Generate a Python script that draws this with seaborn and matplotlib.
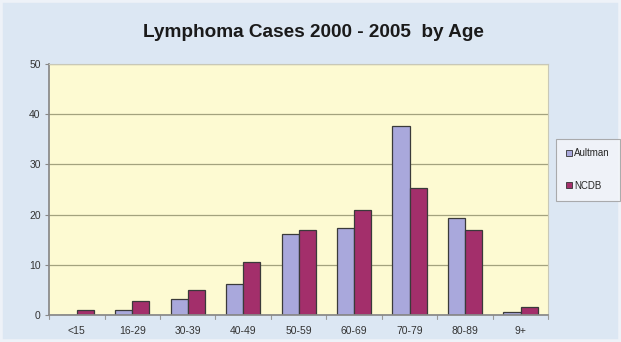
import matplotlib
matplotlib.use("Agg")
import matplotlib.pyplot as plt
import seaborn as sns
import pandas as pd
from matplotlib.patches import Patch, Rectangle

# Share of lymphoma cases (%) per age group, 2000 - 2005
age_groups = ["<15", "16-29", "30-39", "40-49", "50-59", "60-69", "70-79", "80-89", "9+"]
aultman = [0.0, 1.0, 3.2, 6.2, 16.2, 17.3, 37.6, 19.3, 0.5]
ncdb = [1.0, 2.8, 5.0, 10.6, 17.0, 21.0, 25.3, 16.9, 1.6]
series_names = ["Aultman", "NCDB"]
y_ticks = [0, 10, 20, 30, 40, 50]

df = pd.DataFrame({
    "age": age_groups * 2,
    "value": aultman + ncdb,
    "source": [series_names[0]] * len(age_groups) + [series_names[1]] * len(age_groups),
})

sns.set_theme(style="white")
plt.rcParams["font.family"] = ["Liberation Sans", "DejaVu Sans"]

colors = {"Aultman": "#a9a8dc", "NCDB": "#a32f6b"}

fig = plt.figure(figsize=(6.21, 3.42), dpi=100, facecolor="#dce7f3")
fig.patches.append(Rectangle((0, 0), 1, 1, transform=fig.transFigure, fill=False,
                             edgecolor="#eef2f8", linewidth=4, zorder=-1))
ax = fig.add_axes([0.079, 0.079, 0.804, 0.734])
ax.set_facecolor("#fdfad2")

sns.barplot(data=df, x="age", y="value", hue="source", order=age_groups,
            hue_order=series_names, palette=colors, width=0.62, gap=0,
            edgecolor="#3a3a3a", linewidth=0.9, saturation=1, legend=False, ax=ax)

ax.set_ylim(0, 50)
ax.set_xlim(-0.5, len(age_groups) - 0.5)
ax.set_yticks(y_ticks)
ax.set_yticklabels([str(t) for t in y_ticks], fontsize=7.5, color="#333333")
ax.tick_params(axis="x", labelsize=7.5, labelcolor="#333333", length=0, pad=8)
ax.tick_params(axis="y", length=3, width=0.8, color="#888888", pad=3, left=True)
ax.set_xlabel("")
ax.set_ylabel("")
ax.yaxis.grid(True, color="#a3a27e", linewidth=0.9)
ax.set_axisbelow(True)

# category boundary ticks below the baseline
for b in range(len(age_groups) + 1):
    ax.plot([b - 0.5, b - 0.5], [0, -0.8], color="#999999", linewidth=0.8,
            clip_on=False)

for side in ["top", "right"]:
    ax.spines[side].set_color("#c8c8b8")
    ax.spines[side].set_linewidth(0.8)
ax.spines["left"].set_color("#888888")
ax.spines["bottom"].set_color("#888888")

fig.text(0.505, 1 - 32.5 / 342, "Lymphoma Cases 2000 - 2005  by Age", ha="center",
         va="center", fontsize=13.7, fontweight="bold", color="#1a1a1a")

handles = [Patch(facecolor=colors[n], edgecolor="#333333", linewidth=0.6) for n in series_names]
leg = fig.legend(handles, series_names, loc="center", bbox_to_anchor=(0.947, 0.504),
                 fontsize=7, frameon=True, fancybox=False, handlelength=0.6,
                 handleheight=0.6, handletextpad=0.25, labelspacing=2.3,
                 borderpad=1.0, borderaxespad=0)
leg.get_frame().set_edgecolor("#9a9a9a")
leg.get_frame().set_facecolor("#f4f6fa")
leg.get_frame().set_linewidth(0.8)

fig.savefig("out.png", dpi=100, facecolor=fig.get_facecolor())
